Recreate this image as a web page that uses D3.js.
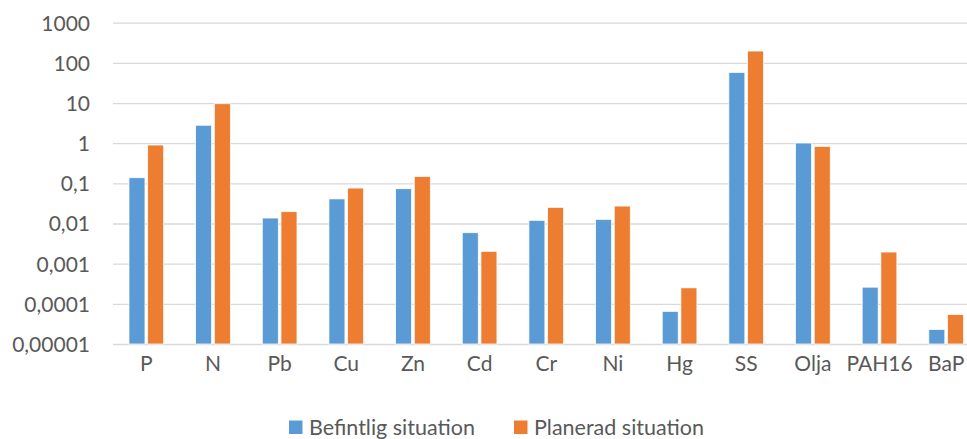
<!DOCTYPE html>
<html>
<head>
    <meta charset="utf-8">
    <title>Befintlig och planerad situation</title>
    <script src="https://d3js.org/d3.v7.min.js"></script>
    <style>
        body { margin: 0; background: #fff; }
        text { font-family: Lato, "Open Sans", sans-serif; fill: #595959; }
        .grid line { stroke: #d9d9d9; stroke-width: 1.3px; }
    </style>
</head>
<body>
    <svg width="967" height="439"></svg>
    <script>
        // data
        const categories = ["P", "N", "Pb", "Cu", "Zn", "Cd", "Cr", "Ni", "Hg", "SS", "Olja", "PAH16", "BaP"]
        const seriesNames = ["Befintlig situation", "Planerad situation"]
        const befintlig = [0.138, 2.8, 0.0137, 0.041, 0.0735, 0.0059, 0.012, 0.0127, 0.000065, 58, 1.01, 0.00026, 0.000023]
        const planerad = [0.9, 9.6, 0.0197, 0.0764, 0.149, 0.00203, 0.0253, 0.0272, 0.00025, 197, 0.834, 0.00195, 0.000054]
        const yTicks = [0.00001, 0.0001, 0.001, 0.01, 0.1, 1, 10, 100, 1000]
        const yTickLabels = ["0,00001", "0,0001", "0,001", "0,01", "0,1", "1", "10", "100", "1000"]
        const colors = ["#5b9bd5", "#ed7d31"]

        const svg = d3.select("svg")
        const margin = { top: 22.7, left: 113, right: 979.5, bottom: 344 }

        const x0 = d3.scaleBand()
            .domain(categories)
            .range([margin.left, margin.right])
            .padding(0)

        const x1 = d3.scaleBand()
            .domain(seriesNames)
            .range([0, x0.bandwidth()])
            .paddingInner(0.144)
            .paddingOuter(0.854)

        const y = d3.scaleLog()
            .domain([0.00001, 1000])
            .range([margin.bottom, margin.top])

        // gridlines + y labels
        const yAxis = d3.axisLeft(y)
            .tickValues(yTicks)
            .tickFormat((d, i) => yTickLabels[i])
            .tickSize(-(margin.right - margin.left))
            .tickPadding(23)
        const gy = svg.append("g")
            .attr("class", "grid")
            .attr("transform", `translate(${margin.left},0)`)
            .call(yAxis)
        gy.select(".domain").remove()
        gy.selectAll("text").style("font-size", "21px").attr("dy", "0.35em")

        // bars
        const rows = categories.map((c, i) => ({ cat: c, vals: [befintlig[i], planerad[i]] }))
        const groups = svg.append("g").selectAll("g")
            .data(rows)
            .join("g")
            .attr("transform", d => `translate(${x0(d.cat)},0)`)
        groups.selectAll("rect")
            .data(d => d.vals.map((v, k) => ({ name: seriesNames[k], v: v, k: k })))
            .join("rect")
            .attr("x", d => x1(d.name))
            .attr("width", x1.bandwidth())
            .attr("y", d => y(d.v))
            .attr("height", d => y(0.00001) - y(d.v))
            .attr("fill", d => colors[d.k])
            .attr("stroke", "#fff")
            .attr("stroke-width", 0.75)

        // x labels
        const xAxis = d3.axisBottom(x0).tickSize(0).tickPadding(12)
        const gx = svg.append("g")
            .attr("transform", `translate(0,${margin.bottom})`)
            .call(xAxis)
        gx.select(".domain").remove()
        gx.selectAll("text").style("font-size", "21px")

        // legend
        const legendX = [289, 514]
        const legend = svg.append("g").selectAll("g")
            .data(seriesNames)
            .join("g")
            .attr("transform", (d, i) => `translate(${legendX[i]},420.5)`)
        legend.append("rect")
            .attr("width", 13.5)
            .attr("height", 13.5)
            .attr("fill", (d, i) => colors[i])
        legend.append("text")
            .attr("x", 20)
            .attr("y", 6.5)
            .attr("dy", "0.35em")
            .style("font-size", "21.5px")
            .text(d => d)
    </script>
</body>
</html>
